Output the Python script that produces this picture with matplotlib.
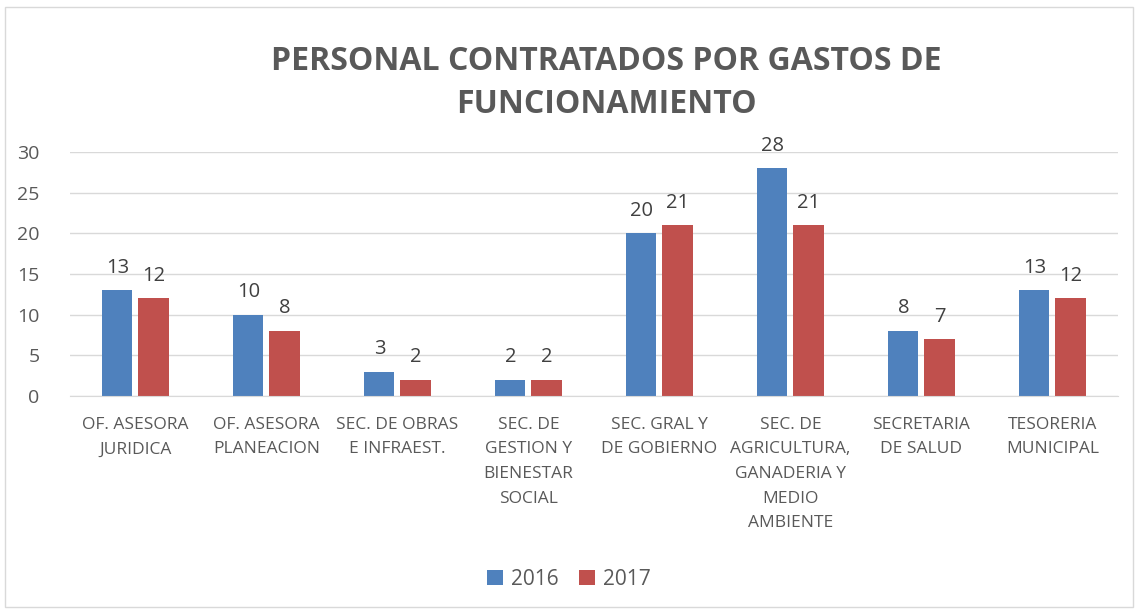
import matplotlib
matplotlib.use("Agg")
import matplotlib.pyplot as plt
import numpy as np
from matplotlib.patches import Rectangle

categories = ["OF. ASESORA\nJURIDICA", "OF. ASESORA\nPLANEACION", "SEC. DE OBRAS\nE INFRAEST.",
              "SEC. DE\nGESTION Y\nBIENESTAR\nSOCIAL", "SEC. GRAL Y\nDE GOBIERNO",
              "SEC. DE\nAGRICULTURA,\nGANADERIA Y\nMEDIO\nAMBIENTE", "SECRETARIA\nDE SALUD",
              "TESORERIA\nMUNICIPAL"]
series_names = ["2016", "2017"]
values_2016 = [13, 10, 3, 2, 20, 28, 8, 13]
values_2017 = [12, 8, 2, 2, 21, 21, 7, 12]
yticks = [0, 5, 10, 15, 20, 25, 30]
title = "PERSONAL CONTRATADOS POR GASTOS DE\nFUNCIONAMIENTO"

colors = ["#4F81BD", "#C0504D"]
font = "Open Sans"
plt.rcParams['font.family'] = [font, 'DejaVu Sans']

fig = plt.figure(figsize=(11.38, 6.12), dpi=100)
ax = fig.add_axes([0.0615, 0.353, 0.9209, 0.3986])

x = np.arange(len(categories))
w = 0.23
gap = 0.046
off = (w + gap) / 2
b1 = ax.bar(x - off, values_2016, w, color=colors[0], label=series_names[0])
b2 = ax.bar(x + off, values_2017, w, color=colors[1], label=series_names[1])
for bars in (b1, b2):
    ax.bar_label(bars, padding=9, fontsize=14.5, color="#404040")

ax.set_xlim(-0.5, len(categories) - 0.5)
ax.set_ylim(0, 30)
ax.set_yticks(yticks)
ax.set_xticks(x)
ax.set_xticklabels(categories, fontsize=12.5, color="#595959", linespacing=1.72)
ax.tick_params(axis='y', labelsize=14, labelcolor="#595959", length=0, pad=22)
ax.tick_params(axis='x', length=0, pad=15)
ax.grid(axis='y', color="#D9D9D9", linewidth=1)
ax.set_axisbelow(True)
for s in ["top", "right", "left"]:
    ax.spines[s].set_visible(False)
ax.spines["bottom"].set_color("#D9D9D9")

fig.text(0.533, 0.865, title, ha="center", va="center", fontsize=23, fontweight="bold",
         color="#595959", linespacing=1.4)

fig.legend(handles=[b1, b2], labels=series_names, loc="center", bbox_to_anchor=(0.5, 0.053),
           ncol=2, frameon=False, fontsize=15, handlelength=0.75, handleheight=0.75,
           columnspacing=1.0, handletextpad=0.4, labelcolor="#595959")

fig.patches.append(Rectangle((0.004, 0.008), 0.992, 0.98, transform=fig.transFigure,
                             fill=False, edgecolor="#D9D9D9", linewidth=1))

fig.savefig("out.png", dpi=100, facecolor="white")
